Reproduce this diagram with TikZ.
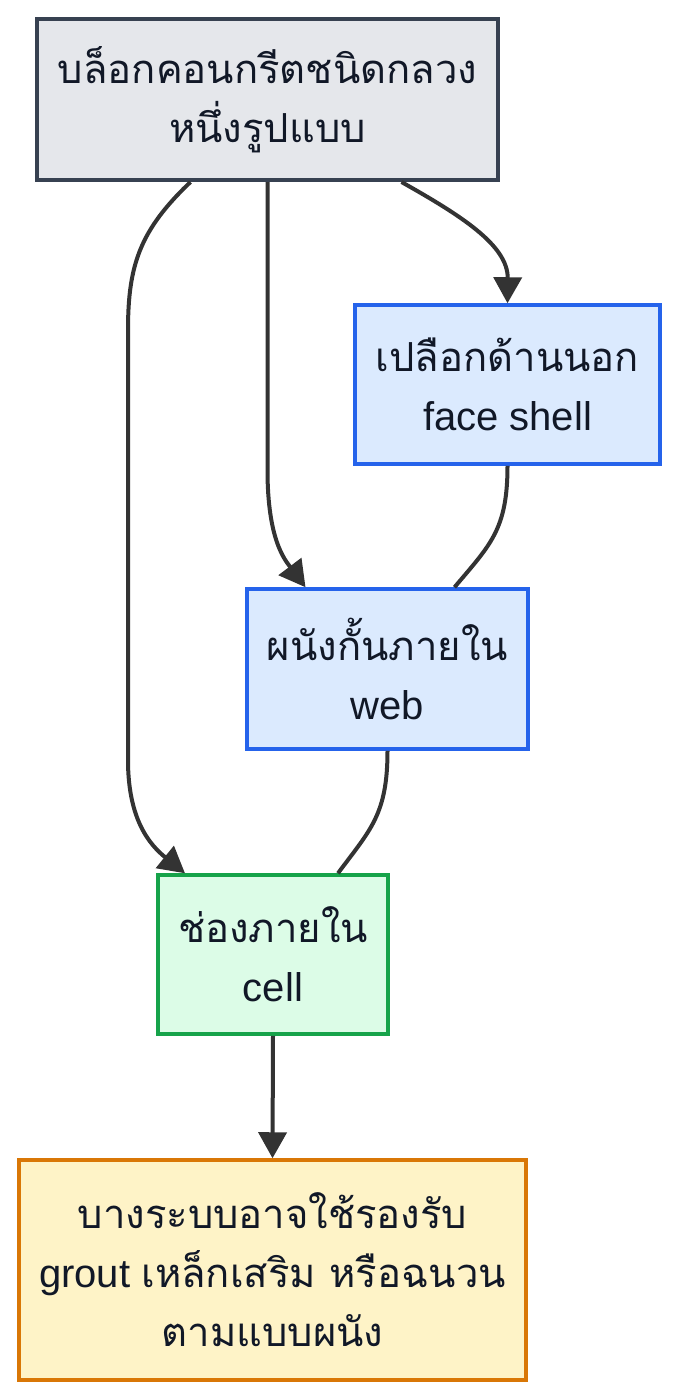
\documentclass[tikz,border=0pt]{standalone}
\usepackage{fontspec}
\setmainfont{Liberation Sans}
\newfontfamily\thaifont[Script=Thai]{Loma}
\usetikzlibrary{arrows.meta}
\usepackage{xcolor}

\definecolor{inkcol}{HTML}{111827}
\definecolor{edgecol}{HTML}{333333}
\definecolor{grayfill}{HTML}{E5E7EB}
\definecolor{grayline}{HTML}{374151}
\definecolor{bluefill}{HTML}{DBEAFE}
\definecolor{blueline}{HTML}{2563EB}
\definecolor{greenfill}{HTML}{DCFCE7}
\definecolor{greenline}{HTML}{16A34A}
\definecolor{yellowfill}{HTML}{FEF3C7}
\definecolor{yellowline}{HTML}{D97706}

\tikzset{
	box/.style={draw, line width=3.5pt, align=center, inner sep=0pt, text=inkcol,
		font=\fontsize{40}{59}\selectfont},
	graybox/.style={box, fill=grayfill, draw=grayline, line width=4pt},
	bluebox/.style={box, fill=bluefill, draw=blueline},
	greenbox/.style={box, fill=greenfill, draw=greenline},
	yellowbox/.style={box, fill=yellowfill, draw=yellowline},
	link/.style={draw=edgecol, line width=4pt},
	arrowlink/.style={link, -{Triangle[length=26pt, width=28pt]}}
}

\begin{document}
\begin{tikzpicture}[x=1pt, y=-1pt]
	\useasboundingbox (0,0) rectangle (681,1400);

	\node [graybox, minimum width=461pt, minimum height=161pt] (block) at (267.5,99.5)
		{\thaifont บล็อกคอนกรีตชนิดกลวง\\ \thaifont หนึ่งรูปแบบ};
	\node [bluebox, minimum width=305pt, minimum height=159pt] (face) at (507.5,384.5)
		{\thaifont เปลือกด้านนอก\\ face shell};
	\node [bluebox, minimum width=281pt, minimum height=160pt] (web) at (387.5,669)
		{\thaifont ผนังกั้นภายใน\\ web};
	\node [greenbox, minimum width=230pt, minimum height=159pt] (cell) at (273,954.5)
		{\thaifont ช่องภายใน\\ cell};
	\node [yellowbox, minimum width=507pt, minimum height=220pt] (fill) at (272.5,1270)
		{\thaifont บางระบบอาจใช้รองรับ\\ grout {\thaifont เหล็กเสริม หรือฉนวน}\\ \thaifont ตามแบบผนัง};

	\draw [arrowlink] ([xshift=134pt]block.south) .. controls (460,215) and (508,245) .. (face.north);
	\draw [arrowlink] (block.south) -- (267.5,470) .. controls (267.5,540) and (285,560) .. ([xshift=-82pt]web.north);
	\draw [arrowlink] ([xshift=-77pt]block.south) .. controls (140,230) and (128,265) .. (128,330)
		-- (128,760) .. controls (128,820) and (150,845) .. ([xshift=-88pt]cell.north);
	\draw [link] (face.south) .. controls (507.5,530) and (490,545) .. ([xshift=67pt]web.north);
	\draw [link] (web.south) .. controls (387.5,815) and (370,830) .. ([xshift=65pt]cell.north);
	\draw [arrowlink] (cell.south) -- (fill.north);

\end{tikzpicture}
\end{document}
